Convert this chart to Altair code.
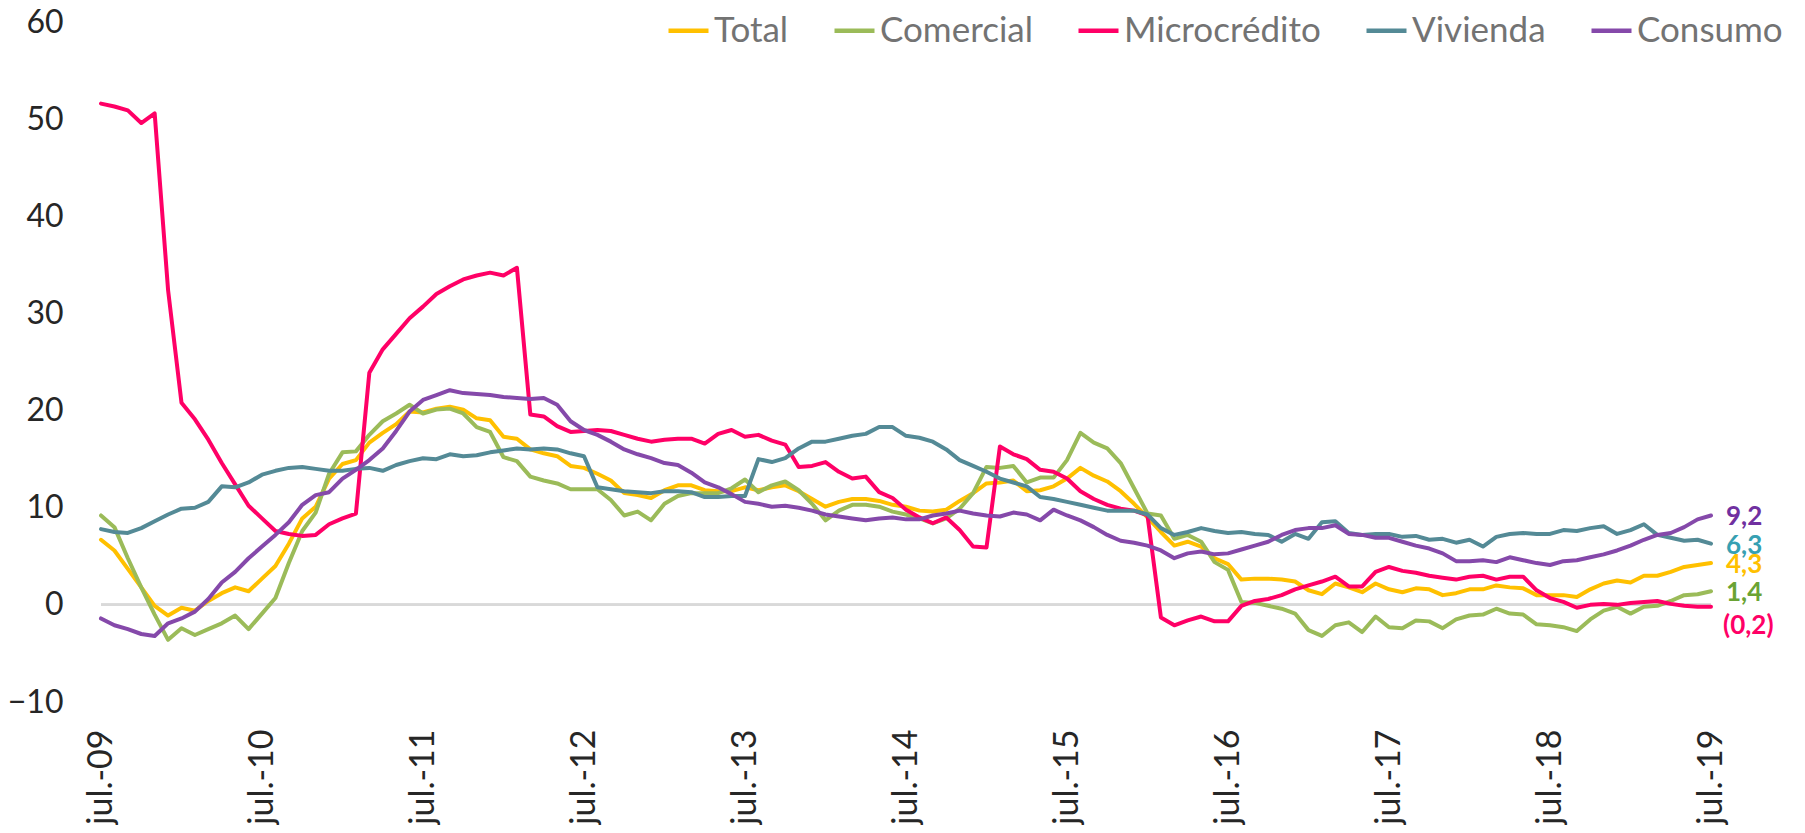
import altair as alt
import pandas as pd

# ---------------- data (monthly, jul-09 .. jul-19) ----------------
series_names = ["Total", "Comercial", "Microcrédito", "Vivienda", "Consumo"]

total = [6.7, 5.6, 3.7, 1.8, -0.1, -1.1, -0.3, -0.6, 0.4, 1.2,
         1.8, 1.4, 2.7, 4.0, 6.3, 8.9, 10.1, 13.0, 14.5, 14.9,
         16.7, 17.7, 18.6, 19.9, 19.8, 20.2, 20.4, 20.1, 19.2, 19.0,
         17.3, 17.1, 16.0, 15.6, 15.3, 14.3, 14.1, 13.5, 12.8, 11.5,
         11.3, 11.0, 11.8, 12.3, 12.3, 11.8, 11.7, 11.7, 12.1, 11.8,
         12.1, 12.3, 11.7, 10.9, 10.1, 10.6, 10.9, 10.9, 10.7, 10.3,
         10.1, 9.7, 9.6, 9.8, 10.7, 11.5, 12.5, 12.6, 12.8, 11.7,
         11.8, 12.2, 13.0, 14.1, 13.3, 12.7, 11.7, 10.4, 9.0, 7.5,
         6.1, 6.5, 6.0, 4.8, 4.2, 2.6, 2.7, 2.7, 2.6, 2.4,
         1.5, 1.1, 2.2, 1.8, 1.3, 2.2, 1.6, 1.3, 1.7, 1.6,
         1.0, 1.2, 1.6, 1.6, 2.0, 1.8, 1.7, 1.0, 1.0, 1.0,
         0.8, 1.6, 2.2, 2.5, 2.3, 3.0, 3.0, 3.4, 3.9, 4.1, 4.3]

comercial = [9.2, 8.0, 4.8, 1.8, -1.0, -3.6, -2.4, -3.1, -2.5, -1.9,
             -1.1, -2.5, -0.9, 0.7, 4.3, 7.6, 9.5, 13.5, 15.7, 15.8,
             17.5, 18.9, 19.7, 20.6, 19.7, 20.1, 20.2, 19.7, 18.3, 17.8,
             15.2, 14.8, 13.2, 12.8, 12.5, 11.9, 11.9, 11.9, 10.8, 9.2,
             9.6, 8.7, 10.4, 11.2, 11.5, 11.5, 11.5, 12.0, 12.9, 11.6,
             12.3, 12.7, 11.8, 10.4, 8.7, 9.7, 10.3, 10.3, 10.1, 9.6,
             9.3, 8.9, 8.4, 8.9, 9.9, 11.5, 14.2, 14.1, 14.3, 12.6,
             13.1, 13.1, 14.9, 17.7, 16.7, 16.1, 14.6, 12.0, 9.4, 9.2,
             6.8, 7.2, 6.5, 4.4, 3.6, 0.3, 0.2, -0.1, -0.4, -0.9,
             -2.6, -3.2, -2.1, -1.8, -2.8, -1.2, -2.3, -2.4, -1.6, -1.7,
             -2.4, -1.5, -1.1, -1.0, -0.4, -0.9, -1.0, -2.0, -2.1, -2.3,
             -2.7, -1.5, -0.6, -0.2, -0.9, -0.2, -0.1, 0.4, 1.0, 1.1, 1.4]

microcredito = [51.6, 51.3, 50.9, 49.6, 50.6, 32.4, 20.8, 19.1, 17.0, 14.6,
                12.4, 10.2, 8.9, 7.6, 7.3, 7.1, 7.2, 8.3, 8.9, 9.4,
                23.9, 26.3, 27.9, 29.5, 30.7, 32.0, 32.8, 33.5, 33.9, 34.2,
                33.9, 34.7, 19.6, 19.4, 18.4, 17.8, 17.9, 18.0, 17.9, 17.5,
                17.1, 16.8, 17.0, 17.1, 17.1, 16.6, 17.6, 18.0, 17.3, 17.5,
                16.9, 16.5, 14.2, 14.3, 14.7, 13.7, 13.0, 13.2, 11.6, 11.0,
                9.8, 9.0, 8.4, 9.0, 7.7, 6.0, 5.9, 16.3, 15.5, 15.0,
                13.9, 13.7, 13.0, 11.7, 10.9, 10.3, 9.9, 9.7, 9.2, -1.3,
                -2.1, -1.6, -1.2, -1.7, -1.7, -0.1, 0.4, 0.6, 1.0, 1.6,
                2.0, 2.4, 2.9, 1.9, 1.9, 3.4, 3.9, 3.5, 3.3, 3.0,
                2.8, 2.6, 2.9, 3.0, 2.6, 2.9, 2.9, 1.5, 0.7, 0.3,
                -0.3, 0.0, 0.1, 0.0, 0.2, 0.3, 0.4, 0.1, -0.1, -0.2, -0.2]

vivienda = [7.8, 7.5, 7.4, 7.9, 8.6, 9.3, 9.9, 10.0, 10.6, 12.2,
            12.1, 12.6, 13.4, 13.8, 14.1, 14.2, 14.0, 13.8, 13.8, 14.0,
            14.1, 13.8, 14.4, 14.8, 15.1, 15.0, 15.5, 15.3, 15.4, 15.7,
            15.9, 16.1, 16.0, 16.1, 16.0, 15.6, 15.3, 12.1, 11.9, 11.7,
            11.6, 11.5, 11.7, 11.7, 11.6, 11.1, 11.1, 11.2, 11.2, 15.0,
            14.7, 15.1, 16.1, 16.8, 16.8, 17.1, 17.4, 17.6, 18.3, 18.3,
            17.4, 17.2, 16.8, 16.0, 14.9, 14.3, 13.7, 13.0, 12.6, 12.2,
            11.1, 10.9, 10.6, 10.3, 10.0, 9.7, 9.7, 9.7, 9.3, 7.9,
            7.2, 7.5, 7.9, 7.6, 7.4, 7.5, 7.3, 7.2, 6.5, 7.3,
            6.8, 8.5, 8.6, 7.4, 7.2, 7.3, 7.3, 7.0, 7.1, 6.7,
            6.8, 6.4, 6.7, 6.0, 7.0, 7.3, 7.4, 7.3, 7.3, 7.7,
            7.6, 7.9, 8.1, 7.3, 7.7, 8.3, 7.2, 6.9, 6.6, 6.7, 6.3]

consumo = [-1.4, -2.1, -2.5, -3.0, -3.2, -1.9, -1.4, -0.7, 0.6, 2.3,
           3.4, 4.8, 6.0, 7.2, 8.5, 10.3, 11.3, 11.6, 13.0, 13.9,
           14.9, 16.1, 17.9, 19.9, 21.1, 21.6, 22.1, 21.8, 21.7, 21.6,
           21.4, 21.3, 21.2, 21.3, 20.6, 18.9, 18.0, 17.5, 16.8, 16.0,
           15.5, 15.1, 14.6, 14.4, 13.6, 12.6, 12.1, 11.4, 10.6, 10.4,
           10.1, 10.2, 10.0, 9.7, 9.3, 9.1, 8.9, 8.7, 8.9, 9.0,
           8.8, 8.8, 9.2, 9.4, 9.7, 9.4, 9.2, 9.1, 9.5, 9.3,
           8.7, 9.8, 9.2, 8.7, 8.0, 7.2, 6.6, 6.4, 6.1, 5.6,
           4.8, 5.3, 5.5, 5.2, 5.3, 5.7, 6.1, 6.5, 7.2, 7.7,
           7.9, 7.9, 8.2, 7.3, 7.2, 6.9, 6.9, 6.5, 6.1, 5.8,
           5.3, 4.5, 4.5, 4.6, 4.4, 4.9, 4.6, 4.3, 4.1, 4.5,
           4.6, 4.9, 5.2, 5.6, 6.1, 6.7, 7.2, 7.4, 8.0, 8.8, 9.2]

tick_labels = ["jul.-09", "jul.-10", "jul.-11", "jul.-12", "jul.-13", "jul.-14",
               "jul.-15", "jul.-16", "jul.-17", "jul.-18", "jul.-19"]

end_labels = ["4,3", "1,4", "(0,2)", "6,3", "9,2"]

# ---------------- styling ----------------
line_colors = ["#FFC000", "#9BBB59", "#FF0066", "#548A96", "#8549AA"]
label_colors = ["#FFC000", "#6AA334", "#FF0066", "#36A0B2", "#7030A0"]
FONT = "Lato"

all_values = [total, comercial, microcredito, vivienda, consumo]
rows = []
for name, vals in zip(series_names, all_values):
    for i, v in enumerate(vals):
        rows.append({"mes": i, "serie": name, "valor": v})
df = pd.DataFrame(rows)

n_last = len(total) - 1
df_end = pd.DataFrame({
    "mes": [n_last] * len(series_names),
    "serie": series_names,
    "valor": [vals[-1] for vals in all_values],
    "etiqueta": end_labels,
})

label_expr = "[" + ",".join("'" + t + "'" for t in tick_labels) + "][round(datum.value/12)]"

x_enc = alt.X(
    "mes:Q",
    scale=alt.Scale(domain=[0, n_last], nice=False, zero=False),
    axis=alt.Axis(
        values=list(range(0, n_last + 1, 12)),
        labelExpr=label_expr,
        labelAngle=270,
        labelAlign="right",
        labelBaseline="middle",
        labelFontSize=34,
        labelColor="#262626",
        labelFont=FONT,
        labelPadding=27,
        labelOverlap=False,
        labelFlush=False,
        labelBound=False,
        domain=False,
        ticks=False,
        tickSize=0,
        grid=False,
        title=None,
    ),
)
y_enc = alt.Y(
    "valor:Q",
    scale=alt.Scale(domain=[-10, 60], nice=False, zero=False),
    axis=alt.Axis(
        values=list(range(-10, 61, 10)),
        labelFontSize=32,
        labelColor="#262626",
        labelFont=FONT,
        labelPadding=38,
        domain=False,
        ticks=False,
        tickSize=0,
        grid=False,
        title=None,
    ),
)

zero_rule = alt.Chart(df).mark_rule(color="#D9D9D9", strokeWidth=2).encode(
    y=alt.datum(0)
)

lines = alt.Chart(df).mark_line(
    strokeWidth=4, strokeJoin="round", strokeCap="round"
).encode(
    x=x_enc,
    y=y_enc,
    color=alt.Color(
        "serie:N",
        sort=series_names,
        scale=alt.Scale(domain=series_names, range=line_colors),
        legend=alt.Legend(
            title=None,
            orient="none",
            legendX=565,
            legendY=-14,
            direction="horizontal",
            symbolType="stroke",
            symbolSize=1600,
            symbolStrokeWidth=4.5,
            labelFont=FONT,
            labelFontSize=35,
            labelColor="#737373",
            labelOffset=3,
            labelLimit=0,
            columnPadding=36,
            padding=0,
        ),
    ),
)

end_base = alt.Chart(df_end).encode(
    x="mes:Q",
    y="valor:Q",
    text="etiqueta:N",
    color=alt.Color(
        "serie:N",
        scale=alt.Scale(domain=series_names, range=label_colors),
        legend=None,
    ),
)
end_top = end_base.transform_filter(alt.datum.valor >= 0).mark_text(
    align="left", baseline="middle", dx=15, dy=2,
    font=FONT, fontSize=26, fontWeight="bold",
)
end_neg = end_base.transform_filter(alt.datum.valor < 0).mark_text(
    align="left", baseline="middle", dx=12, dy=19,
    font=FONT, fontSize=26, fontWeight="bold",
)

chart = (
    alt.layer(zero_rule, lines, end_top, end_neg)
    .resolve_scale(color="independent")
    .properties(
        width=1610,
        height=680,
        autosize=alt.AutoSizeParams(type="none"),
        padding={"left": 93, "top": 14, "right": 86, "bottom": 123},
    )
    .configure(font=FONT)
    .configure_view(stroke=None)
)

chart.save("out.html", embed_options={"renderer": "svg", "actions": False})
